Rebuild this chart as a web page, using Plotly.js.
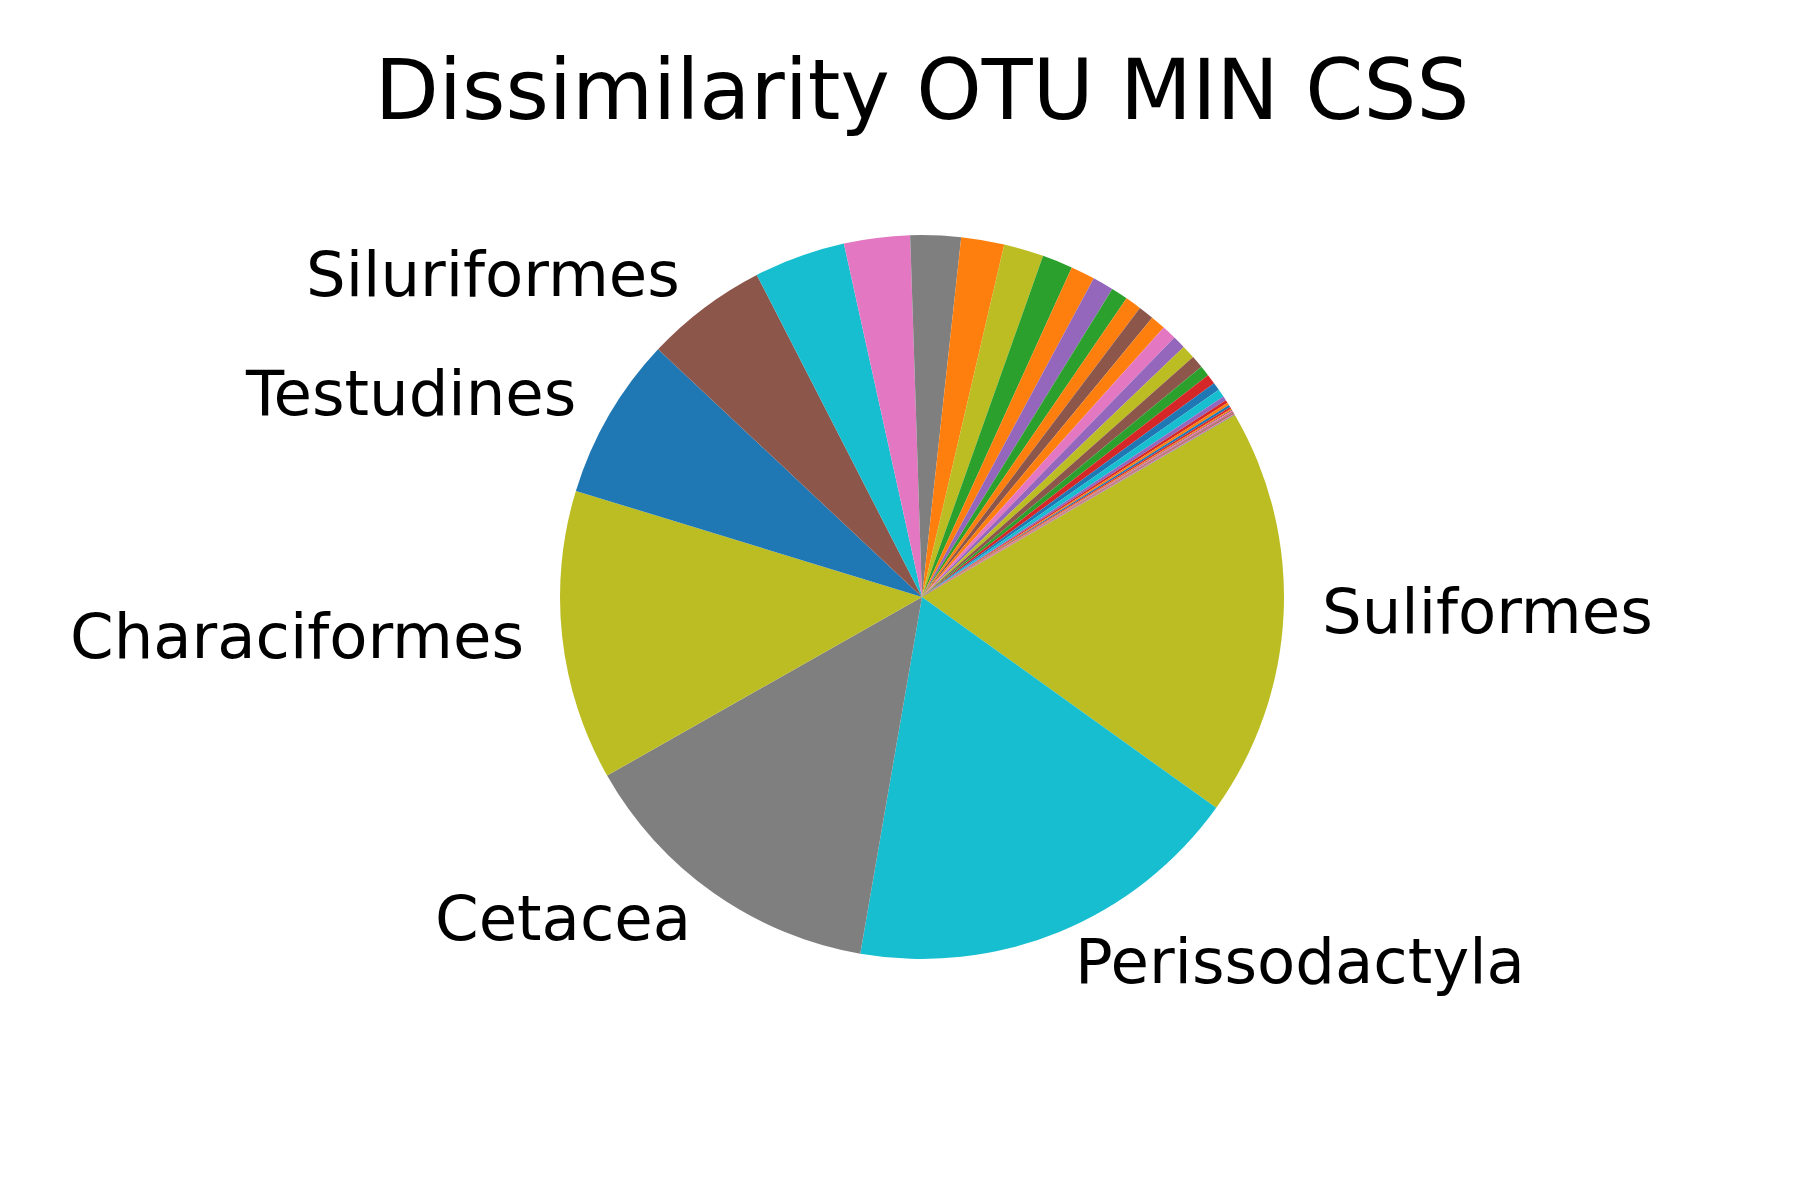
<!DOCTYPE html>
<html>
<head>
<meta charset="utf-8">
<script src="https://cdn.plot.ly/plotly-3.0.1.min.js"></script>
<style>html,body{margin:0;padding:0;background:#fff;}</style>
</head>
<body>
<div id="chart" style="width:1800px;height:1200px;"></div>
<script>
// Slice labels (only the large slices are labelled in the reference)
const sliceLabels = [
  'Suliformes', 'Perissodactyla', 'Cetacea', 'Characiformes', 'Testudines', 'Siluriformes',
  '', '', '', '', '', '', '', '', '', '', '', '', '', '', '', '', '', '', '', '',
  '', '', '', '', '', '', '', '', '', '', '', '', '', ''
];
// Slice values (percent), in drawing order (clockwise)
const sliceValues = [
  18.28, 17.83, 14.06, 12.94, 7.26, 5.46,
  4.08, 2.94, 2.25, 1.92, 1.78, 1.36, 1.08, 0.94, 0.75, 0.72, 0.69, 0.67, 0.64, 0.58,
  0.61, 0.56, 0.47, 0.44, 0.36, 0.36,
  0.19, 0.14, 0.11, 0.11, 0.08, 0.06, 0.04, 0.04, 0.03, 0.03, 0.03, 0.03, 0.03, 0.03
];
const C = {blue:'#1f77b4', orange:'#ff7f0e', green:'#2ca02c', red:'#d62728', purple:'#9467bd',
           brown:'#8c564b', pink:'#e377c2', gray:'#7f7f7f', olive:'#bcbd22', cyan:'#17becf'};
const sliceColors = [
  C.olive, C.cyan, C.gray, C.olive, C.blue, C.brown,
  C.cyan, C.pink, C.gray, C.orange, C.olive, C.green, C.orange, C.purple, C.green, C.orange,
  C.brown, C.orange, C.pink, C.purple, C.olive, C.brown, C.green, C.red, C.blue, C.cyan,
  C.purple, C.red, C.orange, C.blue, C.red, C.orange, C.brown, C.pink, C.red, C.gray,
  C.brown, C.red, C.pink, C.gray
];

const W = 1800, H = 1200;
const CX = 922, CY = 597, R = 362;
const ROTATION = 59.8; // degrees clockwise from 12 o'clock

const ids = sliceValues.map((v, i) => 'slice' + i);

const trace = {
  type: 'pie',
  labels: ids,
  values: sliceValues,
  sort: false,
  direction: 'clockwise',
  rotation: ROTATION,
  textinfo: 'none',
  hoverinfo: 'skip',
  marker: {colors: sliceColors, line: {width: 0}},
  domain: {x: [(CX - R) / W, (CX + R) / W], y: [1 - (CY + R) / H, 1 - (CY - R) / H]}
};

// Label positions at 1.1 x radius, at each labelled slice's mid-angle
const total = sliceValues.reduce((a, b) => a + b, 0);
const annotations = [];
let cum = 0;
sliceValues.forEach((v, i) => {
  const midFrac = (cum + v / 2) / total;
  cum += v;
  if (!sliceLabels[i]) return;
  const theta = (90 - ROTATION - midFrac * 360) * Math.PI / 180;
  const px = CX + 1.1 * R * Math.cos(theta);
  const py = CY - 1.1 * R * Math.sin(theta);
  annotations.push({
    xref: 'paper', yref: 'paper',
    x: px / W, y: 1 - py / H,
    yshift: 4,
    text: sliceLabels[i],
    showarrow: false,
    xanchor: Math.cos(theta) >= 0 ? 'left' : 'right',
    yanchor: 'middle',
    font: {family: 'DejaVu Sans', size: 62.5, color: '#000'}
  });
});

const layout = {
  width: W, height: H,
  margin: {l: 0, r: 0, t: 0, b: 0},
  paper_bgcolor: '#fff',
  showlegend: false,
  font: {family: 'DejaVu Sans', color: '#000'},
  title: {
    text: 'Dissimilarity OTU MIN CSS',
    font: {family: 'DejaVu Sans', size: 83.3, color: '#000'},
    x: CX / W, xanchor: 'center', xref: 'paper',
    y: 1 - 90 / H, yanchor: 'middle', yref: 'container'
  },
  annotations: annotations
};

Plotly.newPlot('chart', [trace], layout, {displayModeBar: false, staticPlot: true});
</script>
</body>
</html>
